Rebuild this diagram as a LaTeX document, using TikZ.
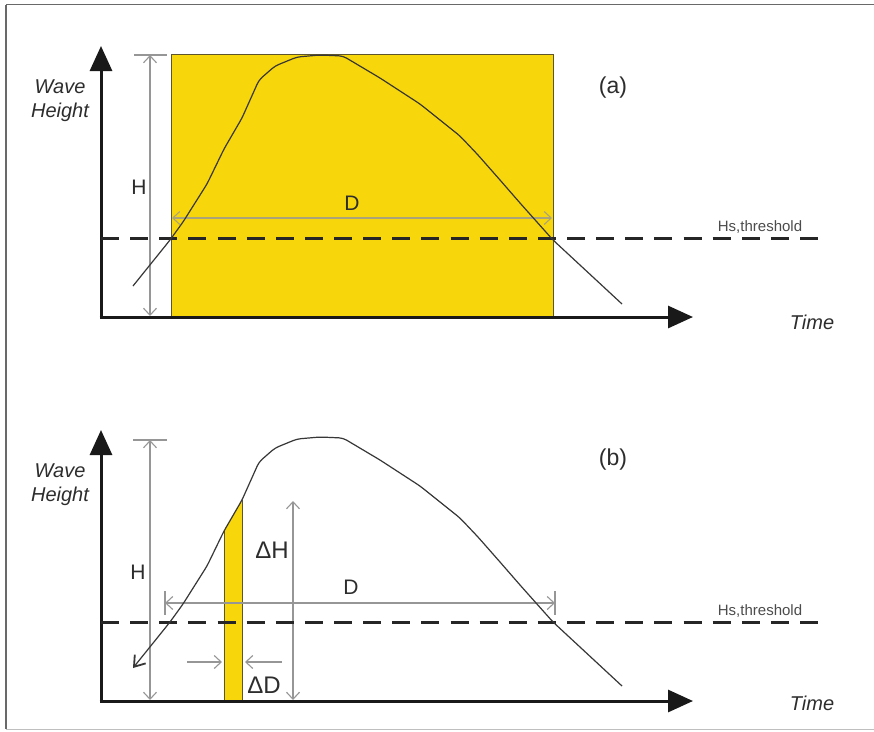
\documentclass[tikz,border=0pt]{standalone}
\usepackage{fontspec}
\setmainfont{Liberation Sans}
\usetikzlibrary{arrows.meta}
\definecolor{yel}{RGB}{248,214,12}
\definecolor{dimc}{RGB}{150,150,150}
\definecolor{curvec}{RGB}{55,55,55}
\definecolor{framec}{RGB}{105,105,105}
\definecolor{rectc}{RGB}{95,85,45}
\definecolor{txtc}{RGB}{45,45,45}
\tikzset{
  axisline/.style={draw=black!90, line width=3pt, -{Triangle[length=25pt,width=22pt]}},
  dimline/.style={draw=dimc, line width=1.1pt},
  dimboth/.style={dimline, {Straight Barb[length=7pt,width=13pt]}-{Straight Barb[length=7pt,width=13pt]}},
  dimend/.style={dimline, -{Straight Barb[length=7pt,width=13pt]}},
  thresh/.style={draw=black!85, line width=3pt, dash pattern=on 18pt off 11.125pt},
  wavecurve/.style={draw=curvec, line width=1.2pt, line join=round},
  axlab/.style={inner sep=0pt, align=center, font=\fontsize{20}{24}\selectfont\itshape, text=txtc},
  panlab/.style={inner sep=0pt, font=\fontsize{23}{26}\selectfont, text=txtc},
  dimlab/.style={inner sep=0pt, font=\fontsize{21}{24}\selectfont, text=txtc},
  deltalab/.style={inner sep=0pt, font=\fontsize{24}{27}\selectfont, text=txtc},
  thrlab/.style={inner sep=0pt, font=\fontsize{15}{17}\selectfont, text=black!70},
}
\begin{document}
\begin{tikzpicture}[x=1pt,y=-1pt]
\useasboundingbox (0,0) rectangle (874,731);
\fill[white] (0,0) rectangle (874,731);
% frame
\draw[framec, line width=1.6pt] (6,4.5) -- (874,4.5);
\draw[framec, line width=1.4pt] (6,4.5) -- (6,728.5);
\draw[black!25, line width=1pt] (6,729) -- (874,729);

% ================= panel (a) =================
\node[draw=rectc, fill=yel, line width=0.9pt, minimum width=382pt, minimum height=263pt, inner sep=0pt, anchor=north west] (rectA) at (171,54) {};
% H dimension
\coordinate (hAtop) at (150,55);
\coordinate (hAbot) at (150,316);
\coordinate (tAl) at (134,55);
\coordinate (tAr) at (167,55);
\draw[dimline] (tAl) -- (tAr);
\draw[dimboth] (hAtop) -- (hAbot);
% D dimension
\coordinate (dAl) at (172,218);
\coordinate (dAr) at (552,218);
\draw[dimboth, draw=dimc!80!yel] (dAl) -- (dAr);
% axes
\coordinate (oA) at (101,317);
\coordinate (yA) at (101,46);
\coordinate (xA) at (693,317);
\coordinate (oAx) at (99.5,317);
\draw[axisline] (oA) -- (yA);
\draw[axisline] (oAx) -- (xA);
% threshold
\coordinate (thAl) at (101,238);
\coordinate (thAr) at (818,238);
\draw[thresh] (thAl) -- (thAr);
% curve
\begin{scope}[shift={(0,-382)}]
\draw[wavecurve, rounded corners=4pt] (133,668) -- (170,622) -- (183,604) -- (207,566) -- (224,531) -- (242,500) -- (259,462) -- (275,448) -- (297,439) -- (320,437) -- (343,438) -- (380,460) -- (420,486) -- (460,518) -- (478,537) -- (500,562) -- (520,585) -- (553,622) -- (622,686);
\end{scope}
% labels
\node[axlab] (whA) at (60,101) {Wave\\Height};
\node[axlab] (timeA) at (812,322) {Time};
\node[panlab] (pa) at (613,88) {(a)};
\node[dimlab] (HA) at (139,187) {H};
\node[dimlab] (DA) at (352,203) {D};
\node[thrlab] (thrA) at (760,227) {Hs,threshold};

% ================= panel (b) =================
% strip
\fill[yel] (224,701) -- (224,531) -- (242,500) -- (242,701) -- cycle;
\draw[rectc, line width=0.9pt] (224,701) -- (224,531);
\draw[rectc, line width=0.9pt] (242,500) -- (242,701);
% H dimension
\coordinate (hBtop) at (150,440);
\coordinate (hBbot) at (150,700);
\coordinate (tBl) at (133,440);
\coordinate (tBr) at (167,440);
\draw[dimline] (tBl) -- (tBr);
\draw[dimboth] (hBtop) -- (hBbot);
% D dimension
\coordinate (dBl) at (165,603);
\coordinate (dBr) at (555,603);
\draw[dimboth] (dBl) -- (dBr);
\draw[dimline] (165,591) -- (165,615);
\draw[dimline] (555,591) -- (555,615);
% Delta H
\coordinate (dhT) at (293,501);
\coordinate (dhB) at (293,700);
\draw[dimboth] (dhT) -- (dhB);
% Delta D
\coordinate (ddL0) at (187,662);
\coordinate (ddL1) at (222,662);
\coordinate (ddR0) at (282,662);
\coordinate (ddR1) at (245,662);
\draw[dimend] (ddL0) -- (ddL1);
\draw[dimend] (ddR0) -- (ddR1);
% axes
\coordinate (oB) at (101,701);
\coordinate (yB) at (101,430);
\coordinate (xB) at (693,701);
\coordinate (oBx) at (99.5,701);
\draw[axisline] (oB) -- (yB);
\draw[axisline] (oBx) -- (xB);
% threshold
\coordinate (thBl) at (101,622);
\coordinate (thBr) at (818,622);
\draw[thresh] (thBl) -- (thBr);
% curve
\draw[wavecurve, rounded corners=4pt, {Straight Barb[length=10pt,width=14pt,line width=1.8pt]}-] (133,668) -- (170,622) -- (183,604) -- (207,566) -- (224,531) -- (242,500) -- (259,462) -- (275,448) -- (297,439) -- (320,437) -- (343,438) -- (380,460) -- (420,486) -- (460,518) -- (478,537) -- (500,562) -- (520,585) -- (553,622) -- (622,686);
% labels
\node[axlab] (whB) at (60,485) {Wave\\Height};
\node[axlab] (timeB) at (812,703) {Time};
\node[panlab] (pb) at (613,460) {(b)};
\node[dimlab] (HB) at (138,572) {H};
\node[dimlab] (DB) at (351,587) {D};
\node[deltalab] (dH) at (272,550) {ΔH};
\node[deltalab] (dD) at (264,685) {ΔD};
\node[thrlab] (thrB) at (760,611) {Hs,threshold};
\end{tikzpicture}
\end{document}
